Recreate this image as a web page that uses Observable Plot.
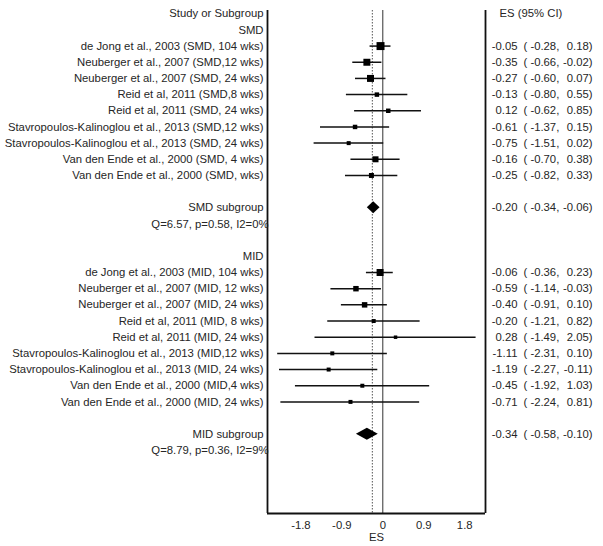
<!DOCTYPE html>
<html>
<head>
<meta charset="utf-8">
<script src="https://cdn.jsdelivr.net/npm/d3@7"></script>
<script src="https://cdn.jsdelivr.net/npm/@observablehq/plot@0.6"></script>
<style>
  html, body { margin: 0; padding: 0; background: #fff; }
  #chart { width: 603px; height: 546px; }
</style>
</head>
<body>
<div id="chart"></div>
<script>
// ---- data ----
const smdStudies = [
  "de Jong et al., 2003 (SMD, 104 wks)",
  "Neuberger et al., 2007 (SMD,12 wks)",
  "Neuberger et al., 2007 (SMD, 24 wks)",
  "Reid et al, 2011 (SMD,8 wks)",
  "Reid et al, 2011 (SMD, 24 wks)",
  "Stavropoulos-Kalinoglou et al., 2013 (SMD,12 wks)",
  "Stavropoulos-Kalinoglou et al., 2013 (SMD, 24 wks)",
  "Van den Ende et al., 2000 (SMD, 4 wks)",
  "Van den Ende et al., 2000 (SMD, wks)"
];
const smdES = [-0.05, -0.35, -0.27, -0.13, 0.12, -0.61, -0.75, -0.16, -0.25];
const smdLo = [-0.28, -0.66, -0.60, -0.80, -0.62, -1.37, -1.51, -0.70, -0.82];
const smdHi = [0.18, -0.02, 0.07, 0.55, 0.85, 0.15, 0.02, 0.38, 0.33];
const smdWeight = [12.8, 9.8, 9.8, 4.0, 4.0, 4.0, 3.2, 7.2, 5.0];
const smdPooled = {label: "SMD subgroup", es: -0.20, lo: -0.34, hi: -0.06, het: "Q=6.57, p=0.58, I2=0%"};

const midStudies = [
  "de Jong et al., 2003 (MID, 104 wks)",
  "Neuberger et al., 2007 (MID, 12 wks)",
  "Neuberger et al., 2007 (MID, 24 wks)",
  "Reid et al, 2011 (MID, 8 wks)",
  "Reid et al, 2011 (MID, 24 wks)",
  "Stavropoulos-Kalinoglou et al., 2013 (MID,12 wks)",
  "Stavropoulos-Kalinoglou et al., 2013 (MID, 24 wks)",
  "Van den Ende et al., 2000 (MID,4 wks)",
  "Van den Ende et al., 2000 (MID, 24 wks)"
];
const midES = [-0.06, -0.59, -0.40, -0.20, 0.28, -1.11, -1.19, -0.45, -0.71];
const midLo = [-0.36, -1.14, -0.91, -1.21, -1.49, -2.31, -2.27, -1.92, -2.24];
const midHi = [0.23, -0.03, 0.10, 0.82, 2.05, 0.10, -0.11, 1.03, 0.81];
const midWeight = [9.8, 6.0, 6.0, 3.2, 2.4, 3.2, 3.2, 3.2, 3.2];
const midPooled = {label: "MID subgroup", es: -0.34, lo: -0.58, hi: -0.10, het: "Q=8.79, p=0.36, I2=9%"};

const overallES = -0.23;
const xTicks = [-1.8, -0.9, 0, 0.9, 1.8];
const xTickLabels = ["-1.8", "-0.9", "0", "0.9", "1.8"];
const xDomain = [-2.534, 2.257];
const headerLeft = "Study or Subgroup";
const headerRight = "ES (95% CI)";
const axisLabel = "ES";

// ---- build the table rows ----
const rows = [];      // all label rows
const studies = [];   // study rows (square + CI)
const pooled = [];    // subgroup rows (diamond)
let r = 0;
rows.push({row: r++, text: headerLeft});
function addGroup(name, labels, es, lo, hi, w, pool) {
  rows.push({row: r++, text: name});
  labels.forEach((lab, i) => {
    const d = {row: r++, text: lab, es: es[i], lo: lo[i], hi: hi[i], w: w[i]};
    rows.push(d); studies.push(d);
  });
  r++; // blank
  const p = {row: r++, text: pool.label, es: pool.es, lo: pool.lo, hi: pool.hi};
  rows.push(p); pooled.push(p);
  rows.push({row: r++, text: pool.het, het: true});
  r++; // blank
}
addGroup("SMD", smdStudies, smdES, smdLo, smdHi, smdWeight, smdPooled);
addGroup("MID", midStudies, midES, midLo, midHi, midWeight, midPooled);

const valued = studies.concat(pooled);
const fmt = v => v.toFixed(2);

const h = 0.37; // half-height of diamonds, in rows
const diamond = pooled.flatMap(p => [
  {g: p.text, y: p.row - h, x1: p.es, x2: p.es},
  {g: p.text, y: p.row, x1: p.lo, x2: p.hi},
  {g: p.text, y: p.row + h, x1: p.es, x2: p.es}
]);

const ink = "#262626";

const chart = Plot.plot({
  width: 603,
  height: 546,
  marginLeft: 267,
  marginRight: 118,
  marginTop: 10,
  marginBottom: 33,
  style: {fontFamily: "'Liberation Sans', Arial, sans-serif", fontSize: "11.3px", color: ink, background: "#fff"},
  x: {domain: xDomain},
  y: {domain: [-0.2, 30.9], reverse: true, axis: null},
  r: {type: "sqrt", domain: [0, 12.8], range: [0, 4.5]},
  marks: [
    // reference lines
    Plot.ruleX([overallES], {stroke: "#555", strokeWidth: 1, strokeDasharray: "1.5,1.5"}),
    Plot.ruleX([0], {stroke: "#333", strokeWidth: 1}),
    // box (left, right, bottom)
    Plot.ruleX(xDomain, {stroke: "#111", strokeWidth: 1.8}),
    Plot.ruleY([30.9], {stroke: "#111", strokeWidth: 1.8}),
    // confidence intervals
    Plot.ruleY(studies, {y: "row", x1: "lo", x2: "hi", stroke: "#111", strokeWidth: 1.5}),
    // study squares
    Plot.dot(studies, {x: "es", y: "row", r: "w", symbol: "square", fill: "#000", stroke: null}),
    // subgroup diamonds
    Plot.areaX(diamond, {y: "y", x1: "x1", x2: "x2", z: "g", fill: "#000", curve: "linear"}),
    // left labels
    Plot.text(rows.filter(d => !d.het), {y: "row", text: "text", frameAnchor: "left", textAnchor: "end", dx: -4, fill: ink}),
    Plot.text(rows.filter(d => d.het), {y: "row", text: "text", frameAnchor: "left", textAnchor: "end", dx: 1, fill: ink}),
    // right column
    Plot.text([headerRight], {y: [0], text: d => d, frameAnchor: "right", textAnchor: "start", dx: 14, fill: ink}),
    Plot.text(valued, {y: "row", text: d => fmt(d.es), frameAnchor: "right", textAnchor: "end", dx: 32, fill: ink}),
    Plot.text(valued, {y: "row", text: d => "( " + fmt(d.lo) + ",", frameAnchor: "right", textAnchor: "start", dx: 38, fill: ink}),
    Plot.text(valued, {y: "row", text: d => fmt(d.hi) + ")", frameAnchor: "right", textAnchor: "end", dx: 107, fill: ink}),
    // x axis
    Plot.axisX(xTicks, {tickSize: 0, tickPadding: 7, tickFormat: (d, i) => xTickLabels[i], label: null, fill: ink}),
    Plot.text([axisLabel], {text: d => d, frameAnchor: "bottom", lineAnchor: "middle", dy: 24, fill: ink})
  ]
});
document.getElementById("chart").appendChild(chart);
</script>
</body>
</html>
